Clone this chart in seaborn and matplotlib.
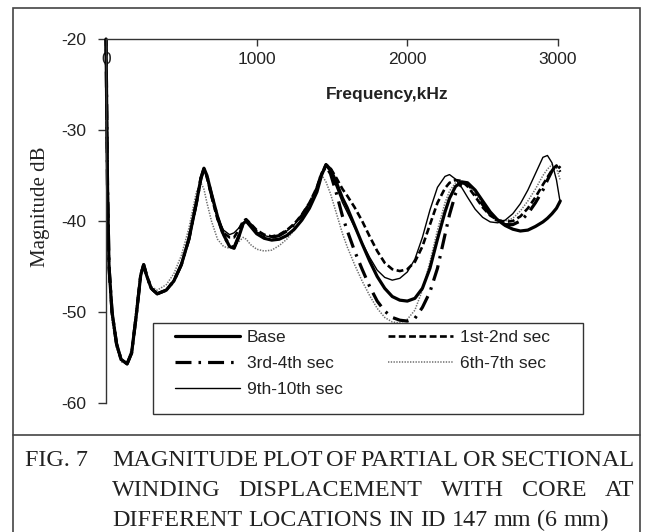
import numpy as np
import pandas as pd
import matplotlib
matplotlib.use("Agg")
import matplotlib.pyplot as plt
import seaborn as sns
from matplotlib.patches import Rectangle
from matplotlib.lines import Line2D

# ---------------- data ----------------
freq_khz = [0, 10, 20, 40, 70, 100, 140, 170, 200, 230, 250, 270, 300, 340, 400, 450, 500,
            550, 600, 630, 650, 670, 700, 740, 780, 820, 850, 880, 910, 930, 960, 1000,
            1050, 1100, 1150, 1200, 1250, 1300, 1350, 1400, 1430, 1460, 1490, 1530, 1570,
            1600, 1650, 1700, 1750, 1800, 1850, 1900, 1950, 2000, 2050, 2100, 2150, 2200,
            2250, 2280, 2320, 2360, 2400, 2450, 2500, 2550, 2600, 2650, 2700, 2750, 2800,
            2850, 2900, 2930, 2960, 2990, 3015]

base = [-20, -36, -45, -50, -53.5, -55.2, -55.7, -54.5, -50.5, -46, -44.8, -46, -47.4, -48,
        -47.6, -46.6, -44.8, -42, -38, -35.3, -34.2, -35, -37, -39.5, -41.5, -42.8, -43,
        -41.8, -40.3, -40, -40.6, -41.4, -41.9, -42.1, -42, -41.6, -40.9, -39.9, -38.6,
        -36.8, -35, -33.8, -34.3, -35.8, -37.5, -38.5, -40.5, -42.5, -44.4, -46.1, -47.4,
        -48.3, -48.7, -48.8, -48.5, -47.4, -45.2, -42, -39, -37.5, -36.2, -35.7, -35.8,
        -36.6, -37.8, -39, -39.9, -40.5, -40.9, -41.1, -41, -40.6, -40.1, -39.7, -39.2,
        -38.6, -37.8]

sec_1_2 = [-20, -36, -45, -50, -53.5, -55.2, -55.7, -54.5, -50.5, -46, -44.8, -46, -47.4, -48,
           -47.6, -46.6, -44.8, -42, -38, -35.3, -34.3, -35.2, -37.3, -39.8, -41.3, -41.8,
           -41.8, -41, -40, -39.8, -40.3, -41, -41.5, -41.7, -41.5, -41, -40.3, -39.3, -38,
           -36.3, -34.8, -33.8, -34.2, -35.3, -36.5, -37.2, -38.5, -40, -41.7, -43.3, -44.6,
           -45.3, -45.5, -45.3, -44.5, -42.8, -40.4, -38, -36.4, -35.8, -35.5, -35.6, -36.2,
           -37.3, -38.5, -39.4, -39.9, -40.1, -40, -39.5, -38.6, -37.4, -36, -35.2, -34.4,
           -33.9, -34.6]

sec_3_4 = [-20, -36, -45, -50, -53.5, -55.2, -55.7, -54.5, -50.5, -46, -44.8, -46, -47.4, -48,
           -47.6, -46.6, -44.8, -42, -38, -35.3, -34.3, -35.1, -37.1, -39.6, -41.6, -42.7,
           -42.9, -41.7, -40.2, -39.9, -40.4, -41.2, -41.6, -41.8, -41.6, -41.1, -40.4,
           -39.4, -38.1, -36.4, -34.8, -34, -34.8, -37, -39.5, -41, -43.3, -45.3, -47.2,
           -48.8, -49.9, -50.6, -50.9, -51, -50.7, -49.5, -47.8, -45.2, -41.5, -39.3, -37,
           -35.8, -35.9, -36.9, -38.2, -39.3, -40, -40.4, -40.4, -40, -39.2, -38, -36.6,
           -35.5, -34.5, -33.8, -34.2]

sec_6_7 = [-20, -37, -46, -51, -54, -55.5, -55.6, -54, -49.5, -45.5, -45, -46.2, -47.2, -47.6,
           -47, -45.8, -43.8, -40.8, -36.8, -35.8, -36.5, -38, -40, -42, -42.8, -43, -42.7,
           -42.3, -41.8, -42, -42.6, -43.1, -43.3, -43.2, -42.7, -42, -41, -39.8, -38.2,
           -36.3, -34.9, -35.7, -37, -39.2, -41.4, -42.8, -44.8, -46.6, -48.2, -49.6, -50.6,
           -51.1, -51.2, -50.8, -49.8, -47.6, -44.5, -41, -38, -36.7, -35.8, -35.6, -36,
           -37, -38.2, -39.2, -39.8, -40, -39.7, -38.9, -37.8, -36.5, -35, -34.3, -33.8,
           -34.2, -35.5]

sec_9_10 = [-20, -36, -45, -50, -53.5, -55.2, -55.7, -54.5, -50.5, -46, -44.8, -46, -47.4, -48,
            -47.6, -46.6, -44.8, -42, -38, -35.3, -34.4, -35.3, -37.3, -39.6, -41, -41.5,
            -41.3, -40.8, -40.2, -40.1, -40.6, -41.2, -41.6, -41.8, -41.6, -41.1, -40.4,
            -39.4, -38.1, -36.4, -35, -34, -34.6, -36.3, -38, -39, -40.7, -42.4, -44, -45.4,
            -46.2, -46.5, -46.3, -45.6, -44.2, -41.8, -38.8, -36.3, -35.1, -34.9, -35.4,
            -36.3, -37.4, -38.7, -39.6, -40.1, -40.2, -39.9, -39.2, -38.1, -36.6, -34.8,
            -33, -32.8, -33.6, -35.5, -38]

series_names = ["Base", "1st-2nd sec", "3rd-4th sec", "6th-7th sec", "9th-10th sec"]
series_values = [base, sec_1_2, sec_3_4, sec_6_7, sec_9_10]
x_ticks = [0, 1000, 2000, 3000]
y_ticks = [-20, -30, -40, -50, -60]
x_title = "Frequency,kHz"
y_title = "Magnitude dB"
caption_lines = [
    "MAGNITUDE PLOT OF PARTIAL OR SECTIONAL",
    "WINDING DISPLACEMENT WITH CORE AT",
    "DIFFERENT LOCATIONS IN ID 147 mm (6 mm)",
]
caption_label = "FIG. 7"

df = pd.concat(
    [pd.DataFrame({"freq": freq_khz, "mag": v, "series": n}) for n, v in zip(series_names, series_values)],
    ignore_index=True,
)

# ---------------- styling ----------------
sns.set_theme(style="white")
plt.rcParams["font.family"] = ["Liberation Sans", "DejaVu Sans"]
plt.rcParams["axes.unicode_minus"] = False

W, H = 645, 532
fig = plt.figure(figsize=(W / 100, H / 100), dpi=100)
fig.patch.set_facecolor("white")


def fx(px):
    return px / W


def fy(py):
    return 1 - py / H


ax = fig.add_axes([fx(106), fy(403), (558 - 106) / W, (403 - 39) / H])
ax.set_facecolor("white")

styles = {
    "Base": dict(color="black", lw=2.3, ls="-"),
    "1st-2nd sec": dict(color="black", lw=1.9, ls=(0, (2.6, 1.3))),
    "3rd-4th sec": dict(color="black", lw=2.3, ls=(0, (5, 2.2, 0.8, 2.2))),
    "6th-7th sec": dict(color="#6e6e6e", lw=1.1, ls=(0, (0.9, 0.9))),
    "9th-10th sec": dict(color="black", lw=1.0, ls="-"),
}
draw_order = ["6th-7th sec", "9th-10th sec", "1st-2nd sec", "3rd-4th sec", "Base"]
for name in draw_order:
    st = styles[name]
    sub = df[df["series"] == name]
    sns.lineplot(data=sub, x="freq", y="mag", ax=ax, color=st["color"], lw=st["lw"],
                 estimator=None, sort=False, legend=False)
    ln = ax.lines[-1]
    ln.set_linestyle(st["ls"])
    ln.set_clip_on(False)

ax.set_xlim(0, 3000)
ax.set_ylim(-60, -20)
ax.set_xticks(x_ticks)
ax.set_yticks(y_ticks)
ax.set_xlabel("")
ax.set_ylabel("")
for s in ["right", "bottom"]:
    ax.spines[s].set_visible(False)
for s in ["left", "top"]:
    ax.spines[s].set_visible(True)
    ax.spines[s].set_color("#333333")
    ax.spines[s].set_linewidth(1.0)
ax.xaxis.set_ticks_position("top")
ax.tick_params(axis="x", direction="in", length=5, width=1, color="#333333",
               labeltop=True, labelbottom=False, pad=-20, labelsize=12.5, labelcolor="#222222")
ax.tick_params(axis="y", direction="out", length=6, width=1, color="#333333",
               left=True, pad=8, labelsize=12.5, labelcolor="#222222")
ax.grid(False)

fig.text(fx(387), fy(95), x_title, ha="center", va="center", fontsize=12.5,
         fontweight="bold", color="#222222")
fig.text(fx(40), fy(207), y_title, ha="center", va="center", rotation=90, fontsize=15,
         family=["Liberation Serif", "DejaVu Serif"], color="#222222")

# ---------------- legend ----------------
handles = {n: Line2D([], [], color=styles[n]["color"], lw=styles[n]["lw"], ls=styles[n]["ls"])
           for n in series_names}
order = ["Base", "3rd-4th sec", "9th-10th sec", "1st-2nd sec", "6th-7th sec"]
leg_fs = 12.5
fs_px = leg_fs * 100 / 72
renderer = fig.canvas.get_renderer()
tmp = fig.text(0, 0, "9th-10th sec", fontsize=leg_fs)
w_col1 = tmp.get_window_extent(renderer).width
tmp.remove()
hl_px, htp_px = 65, 7
colsp = (388 - (175 + hl_px + htp_px + w_col1)) / fs_px
leg = ax.legend([handles[n] for n in order], order, ncol=2, frameon=False,
                loc="upper left", bbox_to_anchor=(fx(175), fy(330)),
                bbox_transform=fig.transFigure, borderpad=0, borderaxespad=0,
                handlelength=hl_px / fs_px, handletextpad=htp_px / fs_px,
                columnspacing=colsp, labelspacing=0.62, fontsize=leg_fs)
for t in leg.get_texts():
    t.set_color("#222222")
fig.add_artist(Rectangle((fx(153), fy(414)), (583 - 153) / W, (414 - 323) / H,
                         transform=fig.transFigure, fill=False, edgecolor="#333333", lw=1.0))

# ---------------- frame and caption ----------------
fig.add_artist(Rectangle((fx(12.5), fy(540)), (640 - 12.5) / W, (540 - 8) / H,
                         transform=fig.transFigure, fill=False, edgecolor="#444444", lw=1.2,
                         clip_on=False))
fig.add_artist(Line2D([fx(12.5), fx(640)], [fy(435), fy(435)], transform=fig.transFigure,
                      color="#444444", lw=1.2))

cap_fs = 17.4
serif = ["Liberation Serif", "DejaVu Serif"]
fig.text(fx(25), fy(460), caption_label, fontsize=cap_fs, family=serif, va="center",
         ha="left", color="#222222")


def place_line(text, y, x0, x1, justify):
    words = text.split(" ")
    ts = [fig.text(0, 0, w, fontsize=cap_fs, family=serif, va="center", ha="left",
                   color="#222222") for w in words]
    r = fig.canvas.get_renderer()
    widths = [t.get_window_extent(r).width for t in ts]
    if justify:
        gap = (x1 - x0 - sum(widths)) / (len(words) - 1)
    else:
        gap = cap_fs * 100 / 72 * 0.25
    x = x0
    for t, w in zip(ts, widths):
        t.set_position((fx(x), fy(y)))
        x += w + gap


place_line(caption_lines[0], 460, 112, 634, True)
place_line(caption_lines[1], 490, 112, 634, True)
place_line(caption_lines[2], 520, 112, 634, False)

fig.savefig("out.png", dpi=100)
